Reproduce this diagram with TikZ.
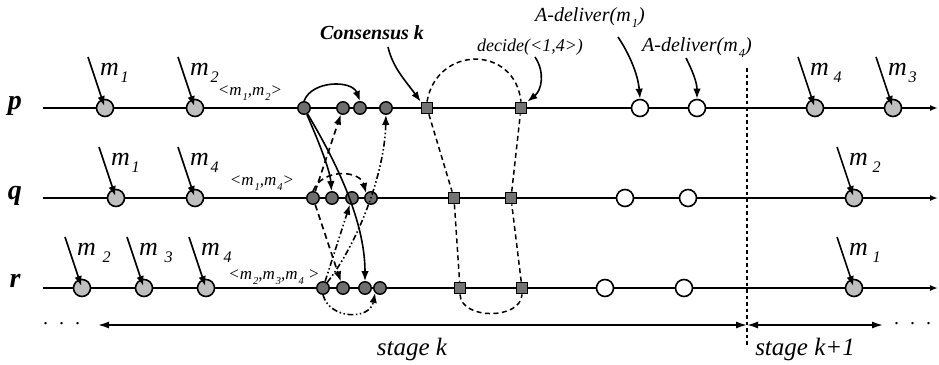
\documentclass[tikz,border=0pt]{standalone}
\usepackage{fontspec}
\setmainfont{Liberation Serif}
\usepackage{graphicx}
\usetikzlibrary{arrows.meta}

\newcommand{\idx}[1]{\kern0.06em\raisebox{-0.3em}{\scalebox{0.62}{#1}}}

\begin{document}
\begin{tikzpicture}[x=1pt, y=-1pt,
    proc/.style={line width=2pt, -{Latex[length=8pt,width=6pt]}},
    bcast/.style={circle, draw, line width=1.6pt, fill=black!25, minimum size=17pt, inner sep=0pt},
    rcv/.style={circle, draw, line width=1.4pt, fill=black!57, minimum size=12.5pt, inner sep=0pt},
    dlv/.style={circle, draw, line width=1.6pt, fill=white, minimum size=17pt, inner sep=0pt},
    cons/.style={rectangle, draw, line width=1.3pt, fill=black!55, minimum size=11.5pt, inner sep=0pt},
    arr/.style={line width=1.6pt, -{Latex[length=10pt,width=7.5pt]}},
    pmsg/.style={arr},
    qmsg/.style={arr, dash pattern=on 6pt off 4pt},
    rmsg/.style={arr, dash pattern=on 6pt off 2.5pt on 1.5pt off 2.5pt on 1.5pt off 2.5pt},
    ringline/.style={line width=1.5pt, dash pattern=on 5pt off 3.5pt},
    mlab/.style={font=\fontsize{26}{30}\selectfont\itshape, anchor=base west, inner sep=0pt},
    plab/.style={font=\fontsize{28}{32}\selectfont\bfseries\itshape, anchor=base, inner sep=0pt},
    tup/.style={font=\fontsize{17}{20}\selectfont\itshape, inner sep=0pt},
    note/.style={font=\fontsize{20}{24}\selectfont\itshape, inner sep=0pt},
    stagelab/.style={font=\fontsize{25}{30}\selectfont\itshape, inner sep=0pt}]

    \useasboundingbox (0,0) rectangle (939,364);

    % Process lines
    \node[plab] (lp) at (15,109) {p};
    \node[plab] (lq) at (15,199) {q};
    \node[plab] (lr) at (15,287) {r};
    \coordinate (p-s) at (43,108); \coordinate (p-e) at (938,108);
    \coordinate (q-s) at (43,198); \coordinate (q-e) at (938,198);
    \coordinate (r-s) at (43,288); \coordinate (r-e) at (938,288);
    \draw[proc] (p-s) -- (p-e);
    \draw[proc] (q-s) -- (q-e);
    \draw[proc] (r-s) -- (r-e);

    % Broadcast messages arriving
    \foreach \cx/\cy/\nm/\txt in {105/108/pa/{m\idx{1}}, 195/108/pb/{m\idx{2}},
        815/108/pe/{m\kern3pt\idx{4}}, 893/108/pf/{m\idx{3}},
        116/198/qa/{m\idx{1}}, 195/198/qb/{m\idx{4}}, 854/198/qe/{m\kern3pt\idx{2}},
        82/288/ra/{m\kern5pt\idx{2}}, 144/288/rb/{m\kern5pt\idx{3}},
        206/288/rc/{m\kern2pt\idx{4}}, 854/288/re/{m\kern3pt\idx{1}}}
    {
        \node[bcast] (\nm) at (\cx,\cy) {};
        \coordinate (\nm-in) at ({\cx-17},{\cy-51});
        \draw[arr, shorten >=2pt] (\nm-in) -- (\nm.center);
        \node[mlab] at ({\cx-5},{\cy-33}) {\txt};
    }

    % Proposals
    \node[tup] (tp) at (250,93) {<m\idx{1},m\idx{2}>};
    \node[tup] (tq) at (262,183) {<m\idx{1},m\idx{4}>};
    \node[tup] (tr) at (274,277) {<m\idx{2},m\idx{3},m\idx{4} >};

    \node[rcv] (ps1) at (304,108) {};
    \node[rcv] (ps2) at (343,108) {};
    \node[rcv] (ps3) at (360,108) {};
    \node[rcv] (ps4) at (386,108) {};
    \node[rcv] (qs1) at (313,198) {};
    \node[rcv] (qs2) at (332,198) {};
    \node[rcv] (qs3) at (352,198) {};
    \node[rcv] (qs4) at (371,198) {};
    \node[rcv] (rs1) at (323,288) {};
    \node[rcv] (rs2) at (343,288) {};
    \node[rcv] (rs3) at (365,288) {};
    \node[rcv] (rs4) at (380,288) {};

    % Messages of p
    \draw[pmsg] (ps1.north) .. controls (312,80) and (352,80) .. (ps3.north);
    \draw[pmsg] (ps1) .. controls (318,140) and (330,170) .. (qs2);
    \draw[pmsg] (ps1) .. controls (335,160) and (365,220) .. (rs3);
    % Messages of q
    \draw[qmsg] (qs1) -- (ps2);
    \draw[qmsg] (qs1.north) .. controls (322,168) and (360,170) .. (qs4.north west);
    \draw[qmsg] (qs1) -- (rs2);
    % Messages of r
    \draw[rmsg] (rs1) .. controls (360,240) and (385,170) .. (ps4);
    \draw[rmsg] (rs1) -- (qs3);
    \draw[rmsg] (rs1.south) .. controls (330,320) and (370,320) .. (rs4.south west);

    % Consensus
    \node[cons] (pc1) at (427,108) {};
    \node[cons] (pc2) at (521,108) {};
    \node[cons] (qc1) at (454,198) {};
    \node[cons] (qc2) at (511,198) {};
    \node[cons] (rc1) at (460,288) {};
    \node[cons] (rc2) at (522,288) {};
    \draw[ringline] (pc1.north) .. controls (437,45) and (515,45) .. (pc2.north);
    \draw[ringline] (pc1) -- (qc1);
    \draw[ringline] (qc1) -- (rc1);
    \draw[ringline] (rc1.south) .. controls (461,320) and (521,320) .. (rc2.south);
    \draw[ringline] (rc2) -- (qc2);
    \draw[ringline] (qc2) -- (pc2);

    \node[note, font=\fontsize{20}{24}\selectfont\bfseries\itshape] (lcons) at (372,33) {Consensus k};
    \coordinate (lcons-t) at (388,47);
    \draw[arr] (lcons-t) .. controls (393,68) and (405,80) .. (pc1.north west);
    \node[note, font=\fontsize{18}{22}\selectfont\itshape] (ldec) at (530,47) {decide(<1,4>)};
    \coordinate (ldec-t) at (535,57);
    \draw[arr] (ldec-t) .. controls (545,72) and (542,90) .. (pc2.north east);

    % Delivery
    \node[dlv] (pd1) at (640,108) {};
    \node[dlv] (pd2) at (697,108) {};
    \node[dlv] (qd1) at (625,198) {};
    \node[dlv] (qd2) at (688,198) {};
    \node[dlv] (rd1) at (605,288) {};
    \node[dlv] (rd2) at (684,288) {};
    \node[note] (ld1) at (590,18) {A-deliver(m\idx{1})};
    \coordinate (ld1-t) at (618,37);
    \draw[arr] (ld1-t) .. controls (630,55) and (638,75) .. (pd1.north);
    \node[note] (ld4) at (697,48) {A-deliver(m\idx{4})};
    \coordinate (ld4-t) at (686,58);
    \draw[arr] (ld4-t) .. controls (692,70) and (697,82) .. (pd2.north);

    % Stages
    \coordinate (cut-t) at (747,68); \coordinate (cut-b) at (747,345);
    \draw[line width=1.4pt, dash pattern=on 3.5pt off 3pt] (cut-t) -- (cut-b);
    \coordinate (st-l) at (98,325); \coordinate (st-m) at (747,325); \coordinate (st-r) at (883,325);
    \draw[line width=1.6pt, {Latex[length=11pt,width=7pt]}-{Latex[length=11pt,width=7pt]}] (st-l) -- (st-m);
    \draw[line width=1.6pt, {Latex[length=11pt,width=7pt]}-{Latex[length=11pt,width=7pt]}] (st-m) -- (st-r);
    \node[note] (dl) at (62,324) {.\hspace{11pt}.\hspace{11pt}.};
    \node[note] (dr) at (913,324) {.\hspace{11pt}.\hspace{11pt}.};
    \node[stagelab] (sk) at (412,349) {stage k};
    \node[stagelab] (sk1) at (805,349) {stage k+1};
\end{tikzpicture}
\end{document}
